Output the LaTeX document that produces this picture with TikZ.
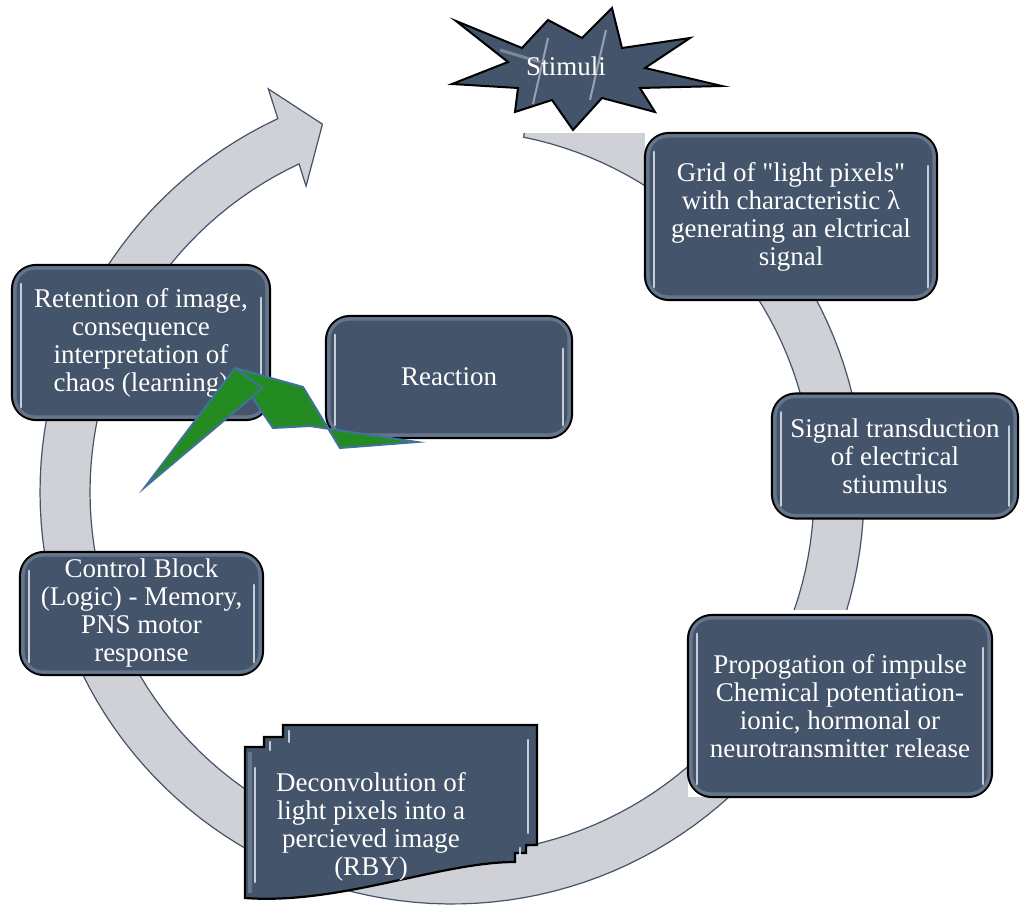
\documentclass[tikz,border=0pt]{standalone}
\usepackage{fontspec}
\setmainfont{Liberation Serif}[Ligatures=TeXOff]
\definecolor{boxfill}{HTML}{44546A}
\definecolor{rimc}{HTML}{7C8BA1}
\definecolor{hlc}{HTML}{DCE3EC}
\definecolor{bandfill}{HTML}{CFD1D6}
\definecolor{bandline}{HTML}{44546A}
\definecolor{boltfill}{HTML}{238B22}
\definecolor{boltline}{HTML}{41719C}
\tikzset{
 box/.style={draw=black, line width=2.2pt, fill=boxfill, rounded corners=24pt, text=white, align=center, font=\fontsize{27}{28}\selectfont, inner sep=0pt},
 rim/.style={draw=rimc, line width=3.5pt, opacity=0.6, rounded corners=20pt},
 hl/.style={draw=hlc, line width=2.6pt, line cap=round, opacity=0.85},
 band/.style={fill=bandfill, draw=bandline, line width=1.2pt, line join=miter},
 bolt/.style={fill=boltfill, draw=boltline, line width=2pt, line join=miter},
 lbl/.style={text=white, align=center, font=\fontsize{27}{28}\selectfont, inner sep=0pt},
 blank/.style={fill=white, draw=none}
}
\newcommand\boxdeco[1]{%
 \draw[rim] ([shift={(4pt,-4pt)}]#1.north west) rectangle ([shift={(-4pt,4pt)}]#1.south east);
 \draw[hl] ([shift={(10pt,-20pt)}]#1.north west) -- ([shift={(10pt,14pt)}]#1.south west);
 \draw[hl] ([shift={(-10pt,-34pt)}]#1.north east) -- ([shift={(-10pt,14pt)}]#1.south east);
}
\begin{document}
\begin{tikzpicture}[x=1pt,y=-1pt]
\useasboundingbox (0,0) rectangle (1021,909);
\fill[white] (0,0) rectangle (1021,909);
% circular band arrow
\filldraw[band] plot[domain=-78.6:245,samples=150] ({452+412*cos(\x)},{492+412*sin(\x)})
  -- ({452+443*cos(245.5)},{492+443*sin(245.5)})
  -- ({452+390*cos(250.6)},{492+390*sin(250.6)})
  -- ({452+339*cos(244.5)},{492+339*sin(244.5)})
  -- plot[domain=245:-78.6,samples=150] ({452+362*cos(\x)},{492+362*sin(\x)}) -- cycle;
% white frames of the shapes that cover the band
\fill[blank] (445,0) rectangle (645,133);
\fill[blank] (645,100) rectangle (940,300);
\fill[blank] (688,610) rectangle (992,797);
% boxes
\node[box, minimum width=292pt, minimum height=167pt] (grid) at (791,216.5) {Grid of "light pixels"\\with characteristic λ\\generating an elctrical\\signal};
\boxdeco{grid}
\node[box, minimum width=246pt, minimum height=125pt] (sig) at (895,456) {Signal transduction\\of electrical\\stiumulus};
\boxdeco{sig}
\node[box, minimum width=304pt, minimum height=182pt] (prop) at (840,706) {Propogation of impulse\\Chemical potentiation-\\ionic, hormonal or\\neurotransmitter release};
\boxdeco{prop}
\node[box, minimum width=243pt, minimum height=123pt] (ctrl) at (141.5,613.5) {Control Block\\(Logic) - Memory,\\PNS motor\\response};
\boxdeco{ctrl}
\node[box, minimum width=258pt, minimum height=155pt] (ret) at (141,342.5) {Retention of image,\\consequence\\interpretation of\\chaos (learning)};
\boxdeco{ret}
\node[box, minimum width=246pt, minimum height=122pt] (react) at (449,377) {Reaction};
\boxdeco{react}
% deconvolution (stacked wavy pages)
\filldraw[fill=boxfill, draw=black, line width=2.2pt, line join=miter]
  (283,725) -- (537,725) -- (537,845) -- (526,845) -- (526,853) -- (515,853) -- (515,862)
  .. controls (440,862) and (340,905) .. (245,898) -- (245,747) -- (264,747) -- (264,737) -- (283,737) -- cycle;
\draw[rim] (250,752) -- (250,893);
\draw[hl] (255,768) -- (255,882);
\draw[hl] (528,740) -- (528,833);
\draw[hl] (270,742) -- (270,750);
\draw[hl] (289,731) -- (289,742);
\draw[hl] (520,848) -- (520,856);
\node[lbl] (dec) at (371,827) {Deconvolution of\\light pixels into a\\percieved image\\(RBY)};
% stimuli star
\filldraw[fill=boxfill, draw=black, line width=2pt, line join=miter]
  (456,21) -- (522,48) -- (548,20) -- (582,38) -- (612,8) -- (622,48) -- (690,38) -- (645,68)
  -- (722,86) -- (640,88) -- (655,112) -- (602,98) -- (573,130) -- (552,100) -- (515,112)
  -- (518,88) -- (452,84) -- (508,62) -- cycle;
\draw[white, opacity=0.45, line width=2pt] (548,38) -- (533,104);
\draw[white, opacity=0.45, line width=2pt] (606,30) -- (590,100);
\draw[white, opacity=0.3, line width=3pt] (500,50) -- (540,62);
\node[lbl] (stim) at (566,66) {Stimuli};
% lightning bolt
\filldraw[bolt] (145,487) -- (235,368) -- (303,387) -- (340,448) -- (417,442) -- (310,426)
  -- (273,428) -- (252,397) -- cycle;
\filldraw[bolt] (235,368) -- (262,388) -- (252,397);
\end{tikzpicture}
\end{document}
